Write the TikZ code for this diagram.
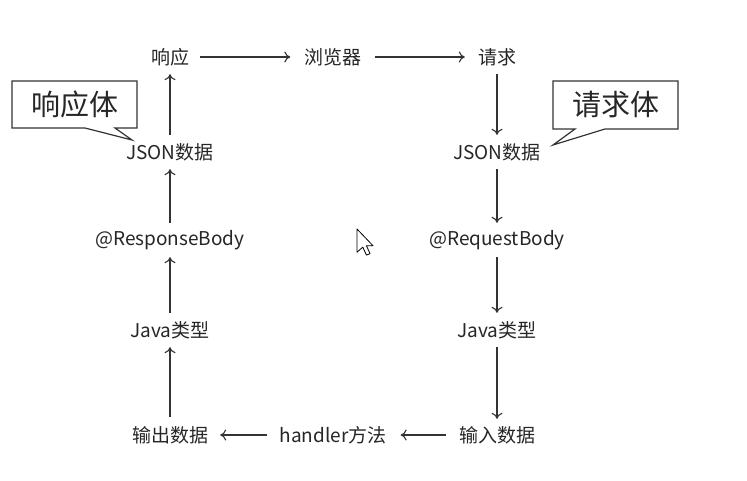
\documentclass[tikz,border=0pt]{standalone}
\usepackage{fontspec}
\setmainfont{Noto Sans CJK SC}
\usetikzlibrary{arrows.meta}
\definecolor{txt}{HTML}{262626}
\definecolor{ln}{HTML}{333333}
\begin{document}
\begin{tikzpicture}[x=1pt,y=-1pt,
  lbl/.style={font=\fontsize{19}{22}\selectfont, text=txt, inner sep=0pt, minimum height=34pt, minimum width=0pt},
  flow/.style={draw=ln, line width=1.1pt, -{To[length=6pt,width=11pt]}},
  callout/.style={draw=ln, line width=1.2pt, fill=white, line join=miter},
  ctext/.style={font=\fontsize{29}{32}\selectfont, text=txt, inner sep=0pt}]
\useasboundingbox (0,0) rectangle (747,480);
\fill[white] (0,0) rectangle (747,480);

% nodes
\node[lbl] (resp)  at (170,57)  {响应};
\node[lbl] (brow)  at (333,57)  {浏览器};
\node[lbl] (req)   at (497,57)  {请求};
\node[lbl] (ljson) at (170,152) {JSON数据};
\node[lbl] (rjson) at (497,152) {JSON数据};
\node[lbl] (rb)    at (170,240) {@ResponseBody};
\node[lbl] (qb)    at (497,240) {@RequestBody};
\node[lbl] (ljava) at (170,330) {Java类型};
\node[lbl] (rjava) at (497,330) {Java类型};
\node[lbl] (out)   at (170,435) {输出数据};
\node[lbl] (hand)  at (333,435) {handler方法};
\node[lbl] (in)    at (497,435) {输入数据};

% connectors
\draw[flow, shorten <=11pt, shorten >=14pt] (resp) -- (brow);
\draw[flow, shorten <=13pt, shorten >=13pt] (brow) -- (req);
\draw[flow] (req) -- (rjson);
\draw[flow] (rjson) -- (qb);
\draw[flow] (qb) -- (rjava);
\draw[flow, shorten >=-1pt] (rjava) -- (in);
\draw[flow, shorten <=13pt, shorten >=14pt] (in) -- (hand);
\draw[flow, shorten <=12pt, shorten >=12pt] (hand) -- (out);
\draw[flow, shorten <=1pt] (out) -- (ljava);
\draw[flow] (ljava) -- (rb);
\draw[flow] (rb) -- (ljson);
\draw[flow] (ljson) -- (resp);

% callouts
\coordinate (ltip) at (132,140);
\draw[callout] (12,81) -- (137,81) -- (137,128) -- (115,128) -- (ltip) -- (85,128) -- (12,128) -- cycle;
\node[ctext] (lcall) at (74.5,104) {响应体};
\coordinate (rtip) at (553,145);
\draw[callout] (553,81) -- (678,81) -- (678,129) -- (605,129) -- (rtip) -- (575,129) -- (553,129) -- cycle;
\node[ctext] (rcall) at (615.5,105) {请求体};

% mouse cursor
\begin{scope}[shift={(357,229)}, scale=1.45]
\draw[fill=white, draw=black, line width=0.8pt, line join=round]
  (0,0) -- (0,16) -- (4,12.5) -- (6.5,18) -- (9,17) -- (6.5,11.5) -- (11,11.5) -- cycle;
\end{scope}
\end{tikzpicture}
\end{document}
